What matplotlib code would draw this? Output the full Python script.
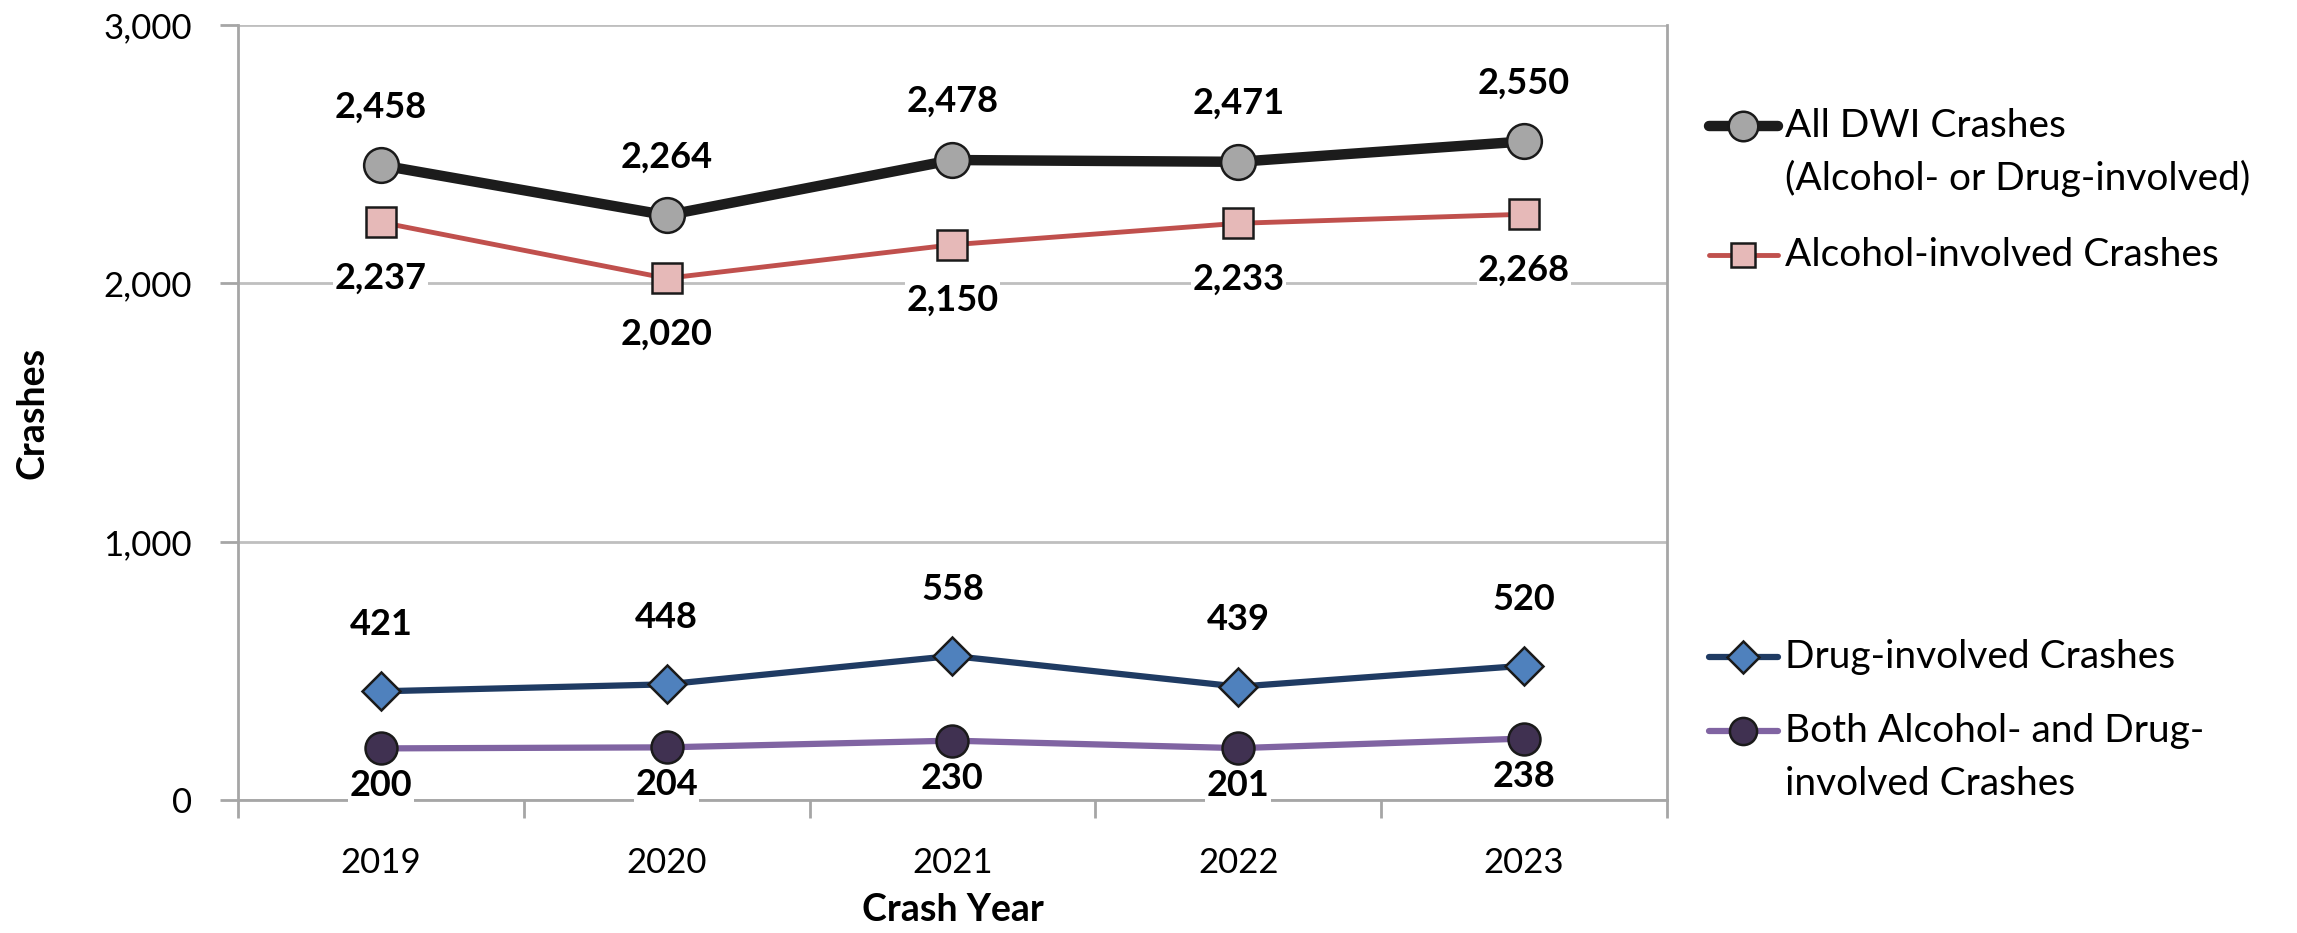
import matplotlib.pyplot as plt
from matplotlib.lines import Line2D
import numpy as np

plt.rcParams['font.family'] = ['Lato', 'DejaVu Sans']

# data
years = ['2019', '2020', '2021', '2022', '2023']
all_dwi = [2458, 2264, 2478, 2471, 2550]
alcohol = [2237, 2020, 2150, 2233, 2268]
drug = [421, 448, 558, 439, 520]
both = [200, 204, 230, 201, 238]

series = [
    # values, line colour, line width, marker, face, size, label offset (pt), legend lines
    (all_dwi, '#1c1c1c', 7.5, 'o', '#a6a6a6', 25, 42,
     ['All DWI Crashes', '(Alcohol- or Drug-involved)']),
    (alcohol, '#c0504d', 3.5, 's', '#e6b9b8', 21, -40,
     ['Alcohol-involved Crashes']),
    (drug, '#1f3b63', 4.5, 'D', '#4f81bd', 19, 48,
     ['Drug-involved Crashes']),
    (both, '#8064a2', 4.5, 'o', '#403151', 23, -27,
     ['Both Alcohol- and Drug-', 'involved Crashes']),
]
legend_y = [0.865, 0.727, 0.296, 0.216]

fig = plt.figure(figsize=(22.97, 9.33), dpi=100)
ax = fig.add_axes([0.1036, 0.1425, 0.6221, 0.8305])

x = np.arange(len(years))
for vals, col, lw, mk, fc, ms, off, lab in series:
    ax.plot(x, vals, color=col, lw=lw, marker=mk, markerfacecolor=fc,
            markeredgecolor='#1a1a1a', markeredgewidth=1.8, markersize=ms,
            solid_capstyle='round', zorder=3)
    for xi, v in zip(x, vals):
        ax.annotate(f'{v:,}', (xi, v), xytext=(0, off), textcoords='offset points',
                    ha='center', va='center', fontsize=26, fontweight='bold',
                    bbox=dict(facecolor='white', edgecolor='none', pad=1),
                    zorder=4)

ax.set_xlim(-0.5, 4.5)
ax.set_ylim(0, 3000)
ax.set_yticks([0, 1000, 2000, 3000])
ax.set_yticklabels(['0', '1,000', '2,000', '3,000'])
ax.set_xticks(x)
ax.set_xticklabels(years)
ax.set_xticks(np.arange(-0.5, 5, 1), minor=True)
ax.tick_params(axis='x', which='major', length=0, pad=34, labelsize=25)
ax.tick_params(axis='x', which='minor', length=13, width=2, color='#a6a6a6')
ax.tick_params(axis='y', length=13, width=2, color='#a6a6a6', pad=20, labelsize=25)
ax.grid(axis='y', color='#bfbfbf', lw=2, zorder=0)
for s in ax.spines.values():
    s.set_color('#a6a6a6')
    s.set_linewidth(2)
ax.spines['top'].set_visible(False)

fig.text(0.014, 0.5577, 'Crashes', rotation=90, ha='center', va='center',
         fontsize=27, fontweight='bold')
fig.text(0.4147, 0.025, 'Crash Year', ha='center', va='center',
         fontsize=27, fontweight='bold')

# legend drawn by hand so the handle sits on the first text line
for (vals, col, lw, mk, fc, ms, off, lab), ly in zip(series, legend_y):
    fig.add_artist(Line2D([0.744, 0.774], [ly, ly], color=col, lw=lw,
                          solid_capstyle='round', transform=fig.transFigure))
    fig.add_artist(Line2D([0.759], [ly], marker=mk, markerfacecolor=fc,
                          markeredgecolor='#1a1a1a', markeredgewidth=1.8,
                          markersize=ms * 0.85, transform=fig.transFigure))
    for i, line in enumerate(lab):
        fig.text(0.777, ly - i * 0.056, line, ha='left', va='center', fontsize=28)

fig.savefig('out.png', dpi=100)
